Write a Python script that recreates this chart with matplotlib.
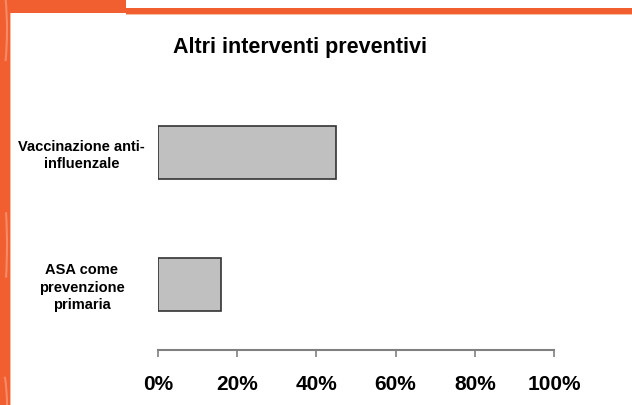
import matplotlib.pyplot as plt
from matplotlib.patches import Rectangle, Arc

# --- data ---
categories = ["ASA come\nprevenzione\nprimaria", "Vaccinazione anti-\ninfluenzale"]
values = [16, 45]
xticks = [0, 20, 40, 60, 80, 100]
xtick_labels = ["0%", "20%", "40%", "60%", "80%", "100%"]
title = "Altri interventi preventivi"

plt.rcParams['font.family'] = ['Liberation Sans', 'DejaVu Sans']

W, H = 632, 405
fig = plt.figure(figsize=(W / 100, H / 100), dpi=100, facecolor='white')

ORANGE = '#F15F31'
LIGHT = '#F9BDA4'

def px_rect(x0, y0, x1, y1, color):
    # rectangle given in pixel coords from the top-left corner
    fig.patches.append(Rectangle((x0 / W, 1 - y1 / H), (x1 - x0) / W, (y1 - y0) / H,
                                 transform=fig.transFigure, color=color, lw=0, zorder=0))

# slide frame
px_rect(9, 0, 10.5, H, LIGHT)
px_rect(126, 13, W, 15, LIGHT)
px_rect(0, 0, 9.5, H, ORANGE)
px_rect(0, 0, 126, 13, ORANGE)
px_rect(126, 8, W, 13.5, ORANGE)
for cy, hgt in [(30, 120), (245, 150), (405, 90)]:
    a = Arc((-3 / W, 1 - cy / H), 20 / W, hgt / H, angle=0, theta1=-80, theta2=80,
            transform=fig.transFigure, color='#F48A66', lw=1.5, zorder=1)
    fig.patches.append(a)

# chart area
ax = fig.add_axes([158 / W, 55 / H, (554 - 158) / W, (350 - 86.5) / H])
ax.set_facecolor('none')
y = [0, 1]
ax.barh(y, values, height=0.4, color='#C0C0C0', edgecolor='#333333', linewidth=1.2)

ax.set_xlim(0, 100)
ax.set_ylim(-0.496, 1.5)
ax.set_xticks(xticks)
ax.set_xticklabels(xtick_labels, fontsize=15, fontweight='bold')
ax.set_yticks(y)
ax.set_yticklabels(categories, fontsize=10.5, fontweight='bold', linespacing=1.3)
for lab in ax.get_yticklabels():
    lab.set_horizontalalignment('center')
    lab.set_multialignment('center')
ax.tick_params(axis='y', length=0, pad=55)
ax.tick_params(axis='x', direction='out', length=5, width=1.2, color='#808080', pad=13)

for s in ['top', 'right', 'left']:
    ax.spines[s].set_visible(False)
ax.spines['bottom'].set_color('#808080')
ax.spines['bottom'].set_linewidth(1.5)

fig.text(300 / W, 1 - 48 / H, title, ha='center', va='center', fontsize=15.5, fontweight='bold')

fig.savefig('out.png', dpi=100, facecolor='white')
